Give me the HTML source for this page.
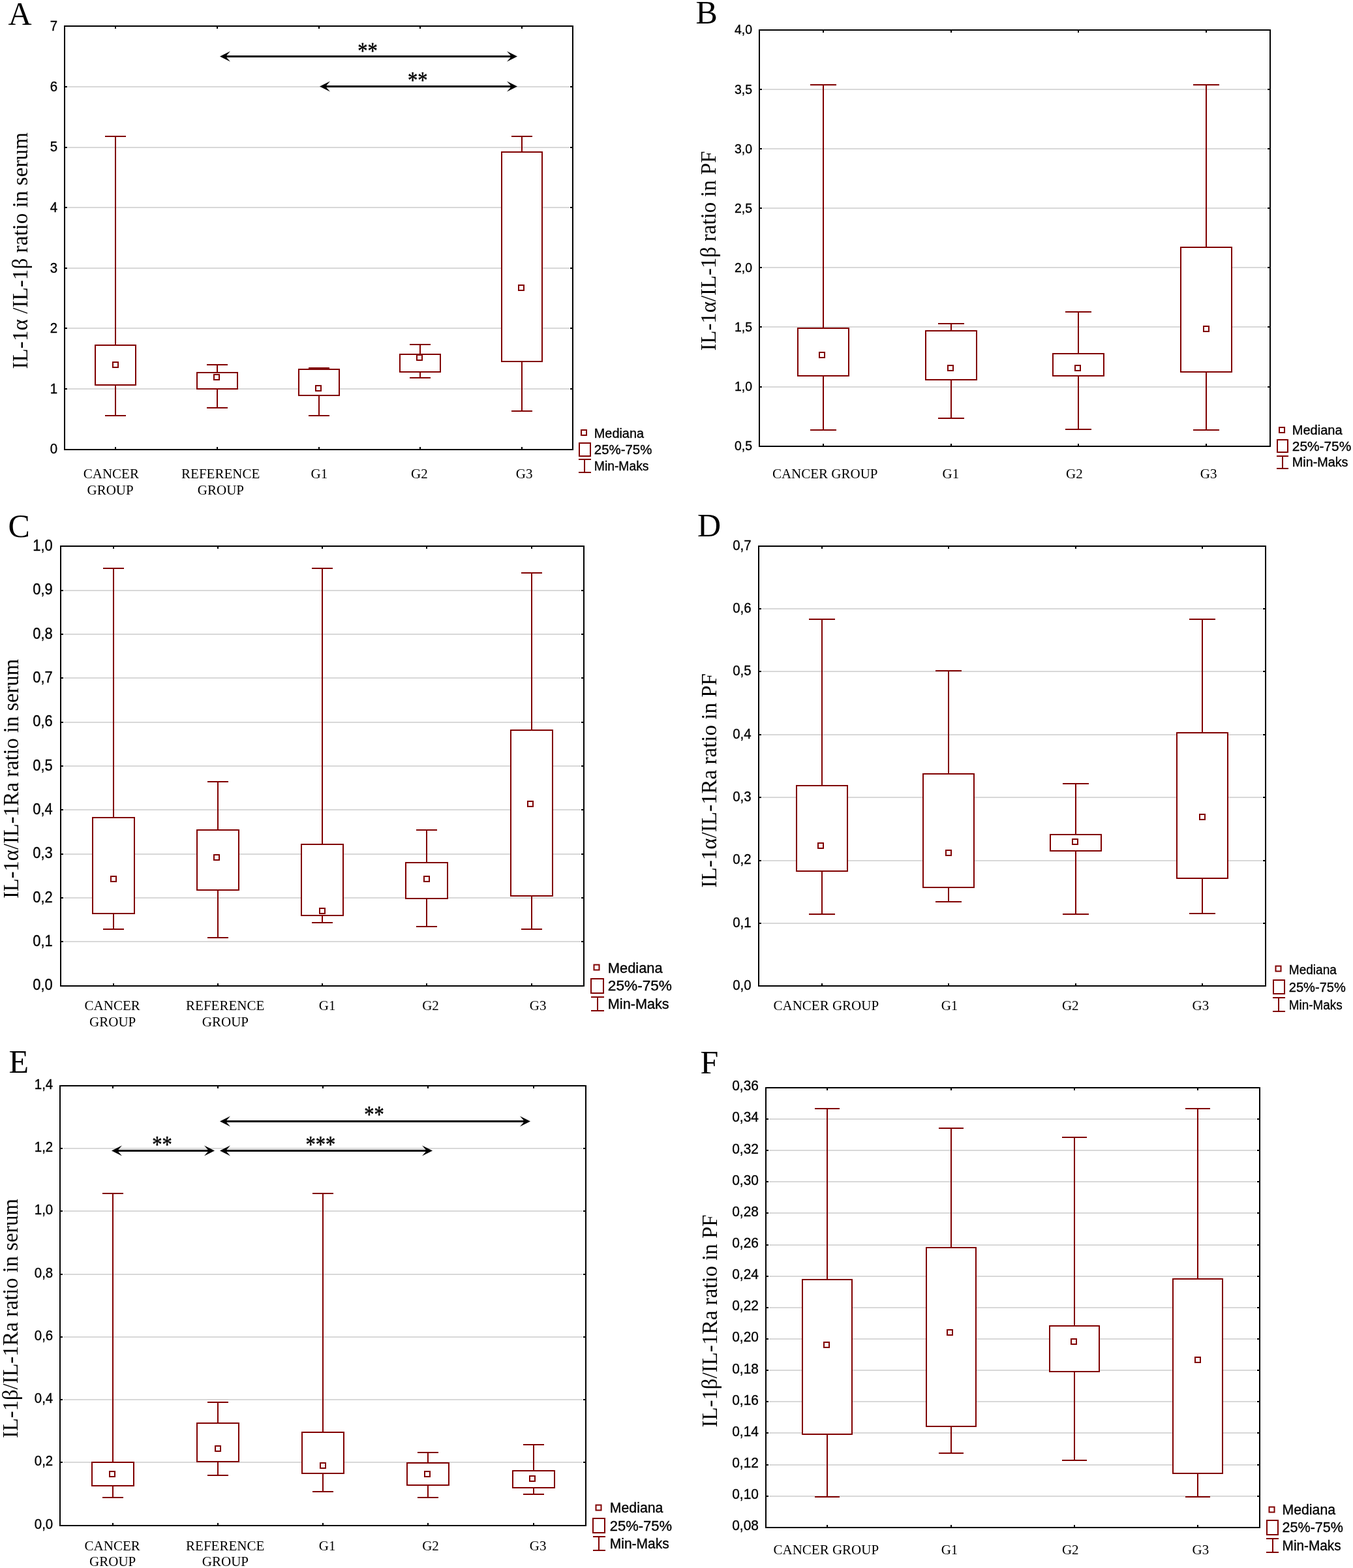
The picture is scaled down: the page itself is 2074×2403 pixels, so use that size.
<!DOCTYPE html>
<html><head><meta charset="utf-8"><title>Figure</title>
<style>
html,body{margin:0;padding:0;background:#fff;}
body{width:2074px;height:2403px;overflow:hidden;}
svg{display:block;}
</style></head>
<body>
<svg width="2074" height="2403" viewBox="0 0 2074 2403">
<rect x="0" y="0" width="2074" height="2403" fill="#fff"/>
<g>
<line x1="104" y1="596" x2="873" y2="596" stroke="#d8d8d8" stroke-width="2"/>
<line x1="104" y1="503" x2="873" y2="503" stroke="#d8d8d8" stroke-width="2"/>
<line x1="104" y1="411" x2="873" y2="411" stroke="#d8d8d8" stroke-width="2"/>
<line x1="104" y1="318" x2="873" y2="318" stroke="#d8d8d8" stroke-width="2"/>
<line x1="104" y1="226" x2="873" y2="226" stroke="#d8d8d8" stroke-width="2"/>
<line x1="104" y1="133" x2="873" y2="133" stroke="#d8d8d8" stroke-width="2"/>
<line x1="177" y1="209" x2="177" y2="529" stroke="#800000" stroke-width="2"/>
<line x1="177" y1="590" x2="177" y2="637" stroke="#800000" stroke-width="2"/>
<line x1="161" y1="209" x2="193" y2="209" stroke="#800000" stroke-width="2"/>
<line x1="161" y1="637" x2="193" y2="637" stroke="#800000" stroke-width="2"/>
<rect x="146" y="529" width="62" height="61" fill="#fff" stroke="#800000" stroke-width="2"/>
<rect x="173.0" y="555.0" width="8" height="8" fill="none" stroke="#800000" stroke-width="2"/>
<line x1="333" y1="559" x2="333" y2="571" stroke="#800000" stroke-width="2"/>
<line x1="333" y1="596" x2="333" y2="625" stroke="#800000" stroke-width="2"/>
<line x1="317" y1="559" x2="349" y2="559" stroke="#800000" stroke-width="2"/>
<line x1="317" y1="625" x2="349" y2="625" stroke="#800000" stroke-width="2"/>
<rect x="302" y="571" width="62" height="25" fill="#fff" stroke="#800000" stroke-width="2"/>
<rect x="328.0" y="574.0" width="8" height="8" fill="none" stroke="#800000" stroke-width="2"/>
<line x1="489" y1="564" x2="489" y2="566" stroke="#800000" stroke-width="2"/>
<line x1="489" y1="606" x2="489" y2="637" stroke="#800000" stroke-width="2"/>
<line x1="473" y1="564" x2="505" y2="564" stroke="#800000" stroke-width="2"/>
<line x1="473" y1="637" x2="505" y2="637" stroke="#800000" stroke-width="2"/>
<rect x="458" y="566" width="62" height="40" fill="#fff" stroke="#800000" stroke-width="2"/>
<rect x="484.0" y="591.0" width="8" height="8" fill="none" stroke="#800000" stroke-width="2"/>
<line x1="644" y1="528" x2="644" y2="543" stroke="#800000" stroke-width="2"/>
<line x1="644" y1="570" x2="644" y2="579" stroke="#800000" stroke-width="2"/>
<line x1="628" y1="528" x2="660" y2="528" stroke="#800000" stroke-width="2"/>
<line x1="628" y1="579" x2="660" y2="579" stroke="#800000" stroke-width="2"/>
<rect x="613" y="543" width="62" height="27" fill="#fff" stroke="#800000" stroke-width="2"/>
<rect x="639.0" y="544.0" width="8" height="8" fill="none" stroke="#800000" stroke-width="2"/>
<line x1="800" y1="209" x2="800" y2="233" stroke="#800000" stroke-width="2"/>
<line x1="800" y1="554" x2="800" y2="630" stroke="#800000" stroke-width="2"/>
<line x1="784" y1="209" x2="816" y2="209" stroke="#800000" stroke-width="2"/>
<line x1="784" y1="630" x2="816" y2="630" stroke="#800000" stroke-width="2"/>
<rect x="769" y="233" width="62" height="321" fill="#fff" stroke="#800000" stroke-width="2"/>
<rect x="795.0" y="437.0" width="8" height="8" fill="none" stroke="#800000" stroke-width="2"/>
<line x1="99" y1="596" x2="103" y2="596" stroke="#000" stroke-width="2"/>
<line x1="874" y1="596" x2="878" y2="596" stroke="#000" stroke-width="2"/>
<line x1="99" y1="503" x2="103" y2="503" stroke="#000" stroke-width="2"/>
<line x1="874" y1="503" x2="878" y2="503" stroke="#000" stroke-width="2"/>
<line x1="99" y1="411" x2="103" y2="411" stroke="#000" stroke-width="2"/>
<line x1="874" y1="411" x2="878" y2="411" stroke="#000" stroke-width="2"/>
<line x1="99" y1="318" x2="103" y2="318" stroke="#000" stroke-width="2"/>
<line x1="874" y1="318" x2="878" y2="318" stroke="#000" stroke-width="2"/>
<line x1="99" y1="226" x2="103" y2="226" stroke="#000" stroke-width="2"/>
<line x1="874" y1="226" x2="878" y2="226" stroke="#000" stroke-width="2"/>
<line x1="99" y1="133" x2="103" y2="133" stroke="#000" stroke-width="2"/>
<line x1="874" y1="133" x2="878" y2="133" stroke="#000" stroke-width="2"/>
<line x1="177" y1="685" x2="177" y2="689" stroke="#000" stroke-width="2"/>
<line x1="177" y1="40" x2="177" y2="44" stroke="#000" stroke-width="2"/>
<line x1="333" y1="685" x2="333" y2="689" stroke="#000" stroke-width="2"/>
<line x1="333" y1="40" x2="333" y2="44" stroke="#000" stroke-width="2"/>
<line x1="489" y1="685" x2="489" y2="689" stroke="#000" stroke-width="2"/>
<line x1="489" y1="40" x2="489" y2="44" stroke="#000" stroke-width="2"/>
<line x1="644" y1="685" x2="644" y2="689" stroke="#000" stroke-width="2"/>
<line x1="644" y1="40" x2="644" y2="44" stroke="#000" stroke-width="2"/>
<line x1="800" y1="685" x2="800" y2="689" stroke="#000" stroke-width="2"/>
<line x1="800" y1="40" x2="800" y2="44" stroke="#000" stroke-width="2"/>
<rect x="99" y="40" width="779" height="649" fill="none" stroke="#000" stroke-width="2"/>
<text transform="translate(88,695.3) scale(0.95,1)" x="0" y="0" font-family="Liberation Sans, Arial, sans-serif" font-size="21.53" text-anchor="end" stroke="#000" stroke-width="0.35">0</text>
<text transform="translate(88,602.7) scale(0.95,1)" x="0" y="0" font-family="Liberation Sans, Arial, sans-serif" font-size="21.53" text-anchor="end" stroke="#000" stroke-width="0.35">1</text>
<text transform="translate(88,510.1) scale(0.95,1)" x="0" y="0" font-family="Liberation Sans, Arial, sans-serif" font-size="21.53" text-anchor="end" stroke="#000" stroke-width="0.35">2</text>
<text transform="translate(88,417.5) scale(0.95,1)" x="0" y="0" font-family="Liberation Sans, Arial, sans-serif" font-size="21.53" text-anchor="end" stroke="#000" stroke-width="0.35">3</text>
<text transform="translate(88,324.9) scale(0.95,1)" x="0" y="0" font-family="Liberation Sans, Arial, sans-serif" font-size="21.53" text-anchor="end" stroke="#000" stroke-width="0.35">4</text>
<text transform="translate(88,232.3) scale(0.95,1)" x="0" y="0" font-family="Liberation Sans, Arial, sans-serif" font-size="21.53" text-anchor="end" stroke="#000" stroke-width="0.35">5</text>
<text transform="translate(88,139.7) scale(0.95,1)" x="0" y="0" font-family="Liberation Sans, Arial, sans-serif" font-size="21.53" text-anchor="end" stroke="#000" stroke-width="0.35">6</text>
<text transform="translate(88,47.1) scale(0.95,1)" x="0" y="0" font-family="Liberation Sans, Arial, sans-serif" font-size="21.53" text-anchor="end" stroke="#000" stroke-width="0.35">7</text>
<text x="170.3" y="733.4" font-family="Liberation Serif, Times New Roman, serif" font-size="21" text-anchor="middle">CANCER</text>
<text x="169.1" y="758" font-family="Liberation Serif, Times New Roman, serif" font-size="21" text-anchor="middle">GROUP</text>
<text x="338.2" y="733.4" font-family="Liberation Serif, Times New Roman, serif" font-size="21" text-anchor="middle">REFERENCE</text>
<text x="338.4" y="758" font-family="Liberation Serif, Times New Roman, serif" font-size="21" text-anchor="middle">GROUP</text>
<text x="489.4" y="733" font-family="Liberation Serif, Times New Roman, serif" font-size="21" text-anchor="middle">G1</text>
<text x="642.9" y="733" font-family="Liberation Serif, Times New Roman, serif" font-size="21" text-anchor="middle">G2</text>
<text x="803.6" y="733" font-family="Liberation Serif, Times New Roman, serif" font-size="21" text-anchor="middle">G3</text>
<text transform="translate(42,565.5) rotate(-90)" x="0" y="0" font-family="Liberation Serif, Times New Roman, serif" font-size="32.8" textLength="362.5" lengthAdjust="spacingAndGlyphs">IL-1α /IL-1β ratio in serum</text>
<text x="12.5" y="38.3" font-family="Liberation Serif, Times New Roman, serif" font-size="50">A</text>
<rect x="891" y="659" width="8" height="8" fill="none" stroke="#800000" stroke-width="2"/>
<rect x="888" y="679" width="17" height="20" fill="none" stroke="#800000" stroke-width="2"/>
<line x1="887" y1="704" x2="906" y2="704" stroke="#800000" stroke-width="2"/>
<line x1="887" y1="724" x2="906" y2="724" stroke="#800000" stroke-width="2"/>
<line x1="896" y1="704" x2="896" y2="724" stroke="#800000" stroke-width="2"/>
<text x="910.8" y="670.9" font-family="Liberation Sans, Arial, sans-serif" font-size="20.5" textLength="76.2" lengthAdjust="spacingAndGlyphs" stroke="#000" stroke-width="0.35">Mediana</text>
<text x="910.8" y="695.9" font-family="Liberation Sans, Arial, sans-serif" font-size="20.5" textLength="88.5" lengthAdjust="spacingAndGlyphs" stroke="#000" stroke-width="0.35">25%-75%</text>
<text x="910.8" y="720.8" font-family="Liberation Sans, Arial, sans-serif" font-size="20.5" textLength="83.7" lengthAdjust="spacingAndGlyphs" stroke="#000" stroke-width="0.35">Min-Maks</text>
<line x1="345" y1="86.5" x2="785" y2="86.5" stroke="#000" stroke-width="3"/>
<path d="M337,86.5 L353,78.5 L346,86.5 L353,94.5 Z" fill="#000"/>
<path d="M793,86.5 L777,78.5 L784,86.5 L777,94.5 Z" fill="#000"/>
<text transform="translate(563.6,90.4) scale(0.86,1)" x="0" y="0" font-family="Liberation Serif, Times New Roman, serif" font-size="35.5" text-anchor="middle" stroke="#000" stroke-width="0.5">**</text>
<line x1="498" y1="132.5" x2="785" y2="132.5" stroke="#000" stroke-width="3"/>
<path d="M490,132.5 L506,124.5 L499,132.5 L506,140.5 Z" fill="#000"/>
<path d="M793,132.5 L777,124.5 L784,132.5 L777,140.5 Z" fill="#000"/>
<text transform="translate(640.2,134.6) scale(0.86,1)" x="0" y="0" font-family="Liberation Serif, Times New Roman, serif" font-size="35.5" text-anchor="middle" stroke="#000" stroke-width="0.5">**</text>
</g>
<g>
<line x1="1169" y1="593" x2="1942" y2="593" stroke="#d8d8d8" stroke-width="2"/>
<line x1="1169" y1="501" x2="1942" y2="501" stroke="#d8d8d8" stroke-width="2"/>
<line x1="1169" y1="410" x2="1942" y2="410" stroke="#d8d8d8" stroke-width="2"/>
<line x1="1169" y1="319" x2="1942" y2="319" stroke="#d8d8d8" stroke-width="2"/>
<line x1="1169" y1="228" x2="1942" y2="228" stroke="#d8d8d8" stroke-width="2"/>
<line x1="1169" y1="137" x2="1942" y2="137" stroke="#d8d8d8" stroke-width="2"/>
<line x1="1262" y1="130" x2="1262" y2="503" stroke="#800000" stroke-width="2"/>
<line x1="1262" y1="576" x2="1262" y2="659" stroke="#800000" stroke-width="2"/>
<line x1="1242" y1="130" x2="1282" y2="130" stroke="#800000" stroke-width="2"/>
<line x1="1242" y1="659" x2="1282" y2="659" stroke="#800000" stroke-width="2"/>
<rect x="1223" y="503" width="78" height="73" fill="#fff" stroke="#800000" stroke-width="2"/>
<rect x="1256.0" y="540.0" width="8" height="8" fill="none" stroke="#800000" stroke-width="2"/>
<line x1="1458" y1="496" x2="1458" y2="507" stroke="#800000" stroke-width="2"/>
<line x1="1458" y1="582" x2="1458" y2="641" stroke="#800000" stroke-width="2"/>
<line x1="1438" y1="496" x2="1478" y2="496" stroke="#800000" stroke-width="2"/>
<line x1="1438" y1="641" x2="1478" y2="641" stroke="#800000" stroke-width="2"/>
<rect x="1419" y="507" width="78" height="75" fill="#fff" stroke="#800000" stroke-width="2"/>
<rect x="1453.0" y="560.0" width="8" height="8" fill="none" stroke="#800000" stroke-width="2"/>
<line x1="1653" y1="478" x2="1653" y2="542" stroke="#800000" stroke-width="2"/>
<line x1="1653" y1="576" x2="1653" y2="658" stroke="#800000" stroke-width="2"/>
<line x1="1633" y1="478" x2="1673" y2="478" stroke="#800000" stroke-width="2"/>
<line x1="1633" y1="658" x2="1673" y2="658" stroke="#800000" stroke-width="2"/>
<rect x="1614" y="542" width="78" height="34" fill="#fff" stroke="#800000" stroke-width="2"/>
<rect x="1648.0" y="560.0" width="8" height="8" fill="none" stroke="#800000" stroke-width="2"/>
<line x1="1849" y1="130" x2="1849" y2="379" stroke="#800000" stroke-width="2"/>
<line x1="1849" y1="570" x2="1849" y2="659" stroke="#800000" stroke-width="2"/>
<line x1="1829" y1="130" x2="1869" y2="130" stroke="#800000" stroke-width="2"/>
<line x1="1829" y1="659" x2="1869" y2="659" stroke="#800000" stroke-width="2"/>
<rect x="1810" y="379" width="78" height="191" fill="#fff" stroke="#800000" stroke-width="2"/>
<rect x="1845.0" y="500.0" width="8" height="8" fill="none" stroke="#800000" stroke-width="2"/>
<line x1="1164" y1="593" x2="1168" y2="593" stroke="#000" stroke-width="2"/>
<line x1="1943" y1="593" x2="1947" y2="593" stroke="#000" stroke-width="2"/>
<line x1="1164" y1="501" x2="1168" y2="501" stroke="#000" stroke-width="2"/>
<line x1="1943" y1="501" x2="1947" y2="501" stroke="#000" stroke-width="2"/>
<line x1="1164" y1="410" x2="1168" y2="410" stroke="#000" stroke-width="2"/>
<line x1="1943" y1="410" x2="1947" y2="410" stroke="#000" stroke-width="2"/>
<line x1="1164" y1="319" x2="1168" y2="319" stroke="#000" stroke-width="2"/>
<line x1="1943" y1="319" x2="1947" y2="319" stroke="#000" stroke-width="2"/>
<line x1="1164" y1="228" x2="1168" y2="228" stroke="#000" stroke-width="2"/>
<line x1="1943" y1="228" x2="1947" y2="228" stroke="#000" stroke-width="2"/>
<line x1="1164" y1="137" x2="1168" y2="137" stroke="#000" stroke-width="2"/>
<line x1="1943" y1="137" x2="1947" y2="137" stroke="#000" stroke-width="2"/>
<line x1="1262" y1="680" x2="1262" y2="684" stroke="#000" stroke-width="2"/>
<line x1="1262" y1="46" x2="1262" y2="50" stroke="#000" stroke-width="2"/>
<line x1="1458" y1="680" x2="1458" y2="684" stroke="#000" stroke-width="2"/>
<line x1="1458" y1="46" x2="1458" y2="50" stroke="#000" stroke-width="2"/>
<line x1="1653" y1="680" x2="1653" y2="684" stroke="#000" stroke-width="2"/>
<line x1="1653" y1="46" x2="1653" y2="50" stroke="#000" stroke-width="2"/>
<line x1="1849" y1="680" x2="1849" y2="684" stroke="#000" stroke-width="2"/>
<line x1="1849" y1="46" x2="1849" y2="50" stroke="#000" stroke-width="2"/>
<rect x="1164" y="46" width="783" height="638" fill="none" stroke="#000" stroke-width="2"/>
<text transform="translate(1153,690.3) scale(0.95,1)" x="0" y="0" font-family="Liberation Sans, Arial, sans-serif" font-size="20.48" text-anchor="end" stroke="#000" stroke-width="0.35">0,5</text>
<text transform="translate(1153,599.2) scale(0.95,1)" x="0" y="0" font-family="Liberation Sans, Arial, sans-serif" font-size="20.48" text-anchor="end" stroke="#000" stroke-width="0.35">1,0</text>
<text transform="translate(1153,508.1) scale(0.95,1)" x="0" y="0" font-family="Liberation Sans, Arial, sans-serif" font-size="20.48" text-anchor="end" stroke="#000" stroke-width="0.35">1,5</text>
<text transform="translate(1153,416.9) scale(0.95,1)" x="0" y="0" font-family="Liberation Sans, Arial, sans-serif" font-size="20.48" text-anchor="end" stroke="#000" stroke-width="0.35">2,0</text>
<text transform="translate(1153,325.8) scale(0.95,1)" x="0" y="0" font-family="Liberation Sans, Arial, sans-serif" font-size="20.48" text-anchor="end" stroke="#000" stroke-width="0.35">2,5</text>
<text transform="translate(1153,234.7) scale(0.95,1)" x="0" y="0" font-family="Liberation Sans, Arial, sans-serif" font-size="20.48" text-anchor="end" stroke="#000" stroke-width="0.35">3,0</text>
<text transform="translate(1153,143.6) scale(0.95,1)" x="0" y="0" font-family="Liberation Sans, Arial, sans-serif" font-size="20.48" text-anchor="end" stroke="#000" stroke-width="0.35">3,5</text>
<text transform="translate(1153,52.4) scale(0.95,1)" x="0" y="0" font-family="Liberation Sans, Arial, sans-serif" font-size="20.48" text-anchor="end" stroke="#000" stroke-width="0.35">4,0</text>
<text x="1264.7" y="733" font-family="Liberation Serif, Times New Roman, serif" font-size="21" text-anchor="middle">CANCER GROUP</text>
<text x="1457.4" y="732.8" font-family="Liberation Serif, Times New Roman, serif" font-size="21" text-anchor="middle">G1</text>
<text x="1646.9" y="732.8" font-family="Liberation Serif, Times New Roman, serif" font-size="21" text-anchor="middle">G2</text>
<text x="1852.6" y="732.8" font-family="Liberation Serif, Times New Roman, serif" font-size="21" text-anchor="middle">G3</text>
<text transform="translate(1097.4,537.5) rotate(-90)" x="0" y="0" font-family="Liberation Serif, Times New Roman, serif" font-size="32.8" textLength="306.0" lengthAdjust="spacingAndGlyphs">IL-1α/IL-1β ratio in PF</text>
<text x="1066.5" y="36.4" font-family="Liberation Serif, Times New Roman, serif" font-size="50">B</text>
<rect x="1961" y="655" width="8" height="8" fill="none" stroke="#800000" stroke-width="2"/>
<rect x="1958" y="674" width="16" height="19" fill="none" stroke="#800000" stroke-width="2"/>
<line x1="1957" y1="699" x2="1975" y2="699" stroke="#800000" stroke-width="2"/>
<line x1="1957" y1="718" x2="1975" y2="718" stroke="#800000" stroke-width="2"/>
<line x1="1966" y1="699" x2="1966" y2="718" stroke="#800000" stroke-width="2"/>
<text x="1980.8" y="666" font-family="Liberation Sans, Arial, sans-serif" font-size="19.5" textLength="76.8" lengthAdjust="spacingAndGlyphs" stroke="#000" stroke-width="0.35">Mediana</text>
<text x="1980.8" y="690.8" font-family="Liberation Sans, Arial, sans-serif" font-size="19.5" textLength="90.5" lengthAdjust="spacingAndGlyphs" stroke="#000" stroke-width="0.35">25%-75%</text>
<text x="1980.8" y="714.7" font-family="Liberation Sans, Arial, sans-serif" font-size="19.5" textLength="85.7" lengthAdjust="spacingAndGlyphs" stroke="#000" stroke-width="0.35">Min-Maks</text>
</g>
<g>
<line x1="98" y1="1443" x2="890" y2="1443" stroke="#d8d8d8" stroke-width="2"/>
<line x1="98" y1="1376" x2="890" y2="1376" stroke="#d8d8d8" stroke-width="2"/>
<line x1="98" y1="1309" x2="890" y2="1309" stroke="#d8d8d8" stroke-width="2"/>
<line x1="98" y1="1241" x2="890" y2="1241" stroke="#d8d8d8" stroke-width="2"/>
<line x1="98" y1="1174" x2="890" y2="1174" stroke="#d8d8d8" stroke-width="2"/>
<line x1="98" y1="1107" x2="890" y2="1107" stroke="#d8d8d8" stroke-width="2"/>
<line x1="98" y1="1039" x2="890" y2="1039" stroke="#d8d8d8" stroke-width="2"/>
<line x1="98" y1="972" x2="890" y2="972" stroke="#d8d8d8" stroke-width="2"/>
<line x1="98" y1="905" x2="890" y2="905" stroke="#d8d8d8" stroke-width="2"/>
<line x1="174" y1="871" x2="174" y2="1253" stroke="#800000" stroke-width="2"/>
<line x1="174" y1="1400" x2="174" y2="1424" stroke="#800000" stroke-width="2"/>
<line x1="158" y1="871" x2="190" y2="871" stroke="#800000" stroke-width="2"/>
<line x1="158" y1="1424" x2="190" y2="1424" stroke="#800000" stroke-width="2"/>
<rect x="142" y="1253" width="64" height="147" fill="#fff" stroke="#800000" stroke-width="2"/>
<rect x="170.0" y="1343.0" width="8" height="8" fill="none" stroke="#800000" stroke-width="2"/>
<line x1="334" y1="1198" x2="334" y2="1272" stroke="#800000" stroke-width="2"/>
<line x1="334" y1="1364" x2="334" y2="1437" stroke="#800000" stroke-width="2"/>
<line x1="318" y1="1198" x2="350" y2="1198" stroke="#800000" stroke-width="2"/>
<line x1="318" y1="1437" x2="350" y2="1437" stroke="#800000" stroke-width="2"/>
<rect x="302" y="1272" width="64" height="92" fill="#fff" stroke="#800000" stroke-width="2"/>
<rect x="328.0" y="1310.0" width="8" height="8" fill="none" stroke="#800000" stroke-width="2"/>
<line x1="494" y1="871" x2="494" y2="1294" stroke="#800000" stroke-width="2"/>
<line x1="494" y1="1403" x2="494" y2="1414" stroke="#800000" stroke-width="2"/>
<line x1="478" y1="871" x2="510" y2="871" stroke="#800000" stroke-width="2"/>
<line x1="478" y1="1414" x2="510" y2="1414" stroke="#800000" stroke-width="2"/>
<rect x="462" y="1294" width="64" height="109" fill="#fff" stroke="#800000" stroke-width="2"/>
<rect x="490.0" y="1392.0" width="8" height="8" fill="none" stroke="#800000" stroke-width="2"/>
<line x1="654" y1="1272" x2="654" y2="1322" stroke="#800000" stroke-width="2"/>
<line x1="654" y1="1377" x2="654" y2="1420" stroke="#800000" stroke-width="2"/>
<line x1="638" y1="1272" x2="670" y2="1272" stroke="#800000" stroke-width="2"/>
<line x1="638" y1="1420" x2="670" y2="1420" stroke="#800000" stroke-width="2"/>
<rect x="622" y="1322" width="64" height="55" fill="#fff" stroke="#800000" stroke-width="2"/>
<rect x="650.0" y="1343.0" width="8" height="8" fill="none" stroke="#800000" stroke-width="2"/>
<line x1="815" y1="878" x2="815" y2="1119" stroke="#800000" stroke-width="2"/>
<line x1="815" y1="1373" x2="815" y2="1424" stroke="#800000" stroke-width="2"/>
<line x1="799" y1="878" x2="831" y2="878" stroke="#800000" stroke-width="2"/>
<line x1="799" y1="1424" x2="831" y2="1424" stroke="#800000" stroke-width="2"/>
<rect x="783" y="1119" width="64" height="254" fill="#fff" stroke="#800000" stroke-width="2"/>
<rect x="809.0" y="1228.0" width="8" height="8" fill="none" stroke="#800000" stroke-width="2"/>
<line x1="93" y1="1443" x2="97" y2="1443" stroke="#000" stroke-width="2"/>
<line x1="891" y1="1443" x2="895" y2="1443" stroke="#000" stroke-width="2"/>
<line x1="93" y1="1376" x2="97" y2="1376" stroke="#000" stroke-width="2"/>
<line x1="891" y1="1376" x2="895" y2="1376" stroke="#000" stroke-width="2"/>
<line x1="93" y1="1309" x2="97" y2="1309" stroke="#000" stroke-width="2"/>
<line x1="891" y1="1309" x2="895" y2="1309" stroke="#000" stroke-width="2"/>
<line x1="93" y1="1241" x2="97" y2="1241" stroke="#000" stroke-width="2"/>
<line x1="891" y1="1241" x2="895" y2="1241" stroke="#000" stroke-width="2"/>
<line x1="93" y1="1174" x2="97" y2="1174" stroke="#000" stroke-width="2"/>
<line x1="891" y1="1174" x2="895" y2="1174" stroke="#000" stroke-width="2"/>
<line x1="93" y1="1107" x2="97" y2="1107" stroke="#000" stroke-width="2"/>
<line x1="891" y1="1107" x2="895" y2="1107" stroke="#000" stroke-width="2"/>
<line x1="93" y1="1039" x2="97" y2="1039" stroke="#000" stroke-width="2"/>
<line x1="891" y1="1039" x2="895" y2="1039" stroke="#000" stroke-width="2"/>
<line x1="93" y1="972" x2="97" y2="972" stroke="#000" stroke-width="2"/>
<line x1="891" y1="972" x2="895" y2="972" stroke="#000" stroke-width="2"/>
<line x1="93" y1="905" x2="97" y2="905" stroke="#000" stroke-width="2"/>
<line x1="891" y1="905" x2="895" y2="905" stroke="#000" stroke-width="2"/>
<line x1="174" y1="1507" x2="174" y2="1511" stroke="#000" stroke-width="2"/>
<line x1="174" y1="837" x2="174" y2="841" stroke="#000" stroke-width="2"/>
<line x1="334" y1="1507" x2="334" y2="1511" stroke="#000" stroke-width="2"/>
<line x1="334" y1="837" x2="334" y2="841" stroke="#000" stroke-width="2"/>
<line x1="494" y1="1507" x2="494" y2="1511" stroke="#000" stroke-width="2"/>
<line x1="494" y1="837" x2="494" y2="841" stroke="#000" stroke-width="2"/>
<line x1="654" y1="1507" x2="654" y2="1511" stroke="#000" stroke-width="2"/>
<line x1="654" y1="837" x2="654" y2="841" stroke="#000" stroke-width="2"/>
<line x1="815" y1="1507" x2="815" y2="1511" stroke="#000" stroke-width="2"/>
<line x1="815" y1="837" x2="815" y2="841" stroke="#000" stroke-width="2"/>
<rect x="93" y="837" width="802" height="674" fill="none" stroke="#000" stroke-width="2"/>
<text transform="translate(80.8,1517.1) scale(0.95,1)" x="0" y="0" font-family="Liberation Sans, Arial, sans-serif" font-size="23.10" text-anchor="end" stroke="#000" stroke-width="0.35">0,0</text>
<text transform="translate(80.8,1449.8) scale(0.95,1)" x="0" y="0" font-family="Liberation Sans, Arial, sans-serif" font-size="23.10" text-anchor="end" stroke="#000" stroke-width="0.35">0,1</text>
<text transform="translate(80.8,1382.5) scale(0.95,1)" x="0" y="0" font-family="Liberation Sans, Arial, sans-serif" font-size="23.10" text-anchor="end" stroke="#000" stroke-width="0.35">0,2</text>
<text transform="translate(80.8,1315.2) scale(0.95,1)" x="0" y="0" font-family="Liberation Sans, Arial, sans-serif" font-size="23.10" text-anchor="end" stroke="#000" stroke-width="0.35">0,3</text>
<text transform="translate(80.8,1247.9) scale(0.95,1)" x="0" y="0" font-family="Liberation Sans, Arial, sans-serif" font-size="23.10" text-anchor="end" stroke="#000" stroke-width="0.35">0,4</text>
<text transform="translate(80.8,1180.6) scale(0.95,1)" x="0" y="0" font-family="Liberation Sans, Arial, sans-serif" font-size="23.10" text-anchor="end" stroke="#000" stroke-width="0.35">0,5</text>
<text transform="translate(80.8,1113.3) scale(0.95,1)" x="0" y="0" font-family="Liberation Sans, Arial, sans-serif" font-size="23.10" text-anchor="end" stroke="#000" stroke-width="0.35">0,6</text>
<text transform="translate(80.8,1046.0) scale(0.95,1)" x="0" y="0" font-family="Liberation Sans, Arial, sans-serif" font-size="23.10" text-anchor="end" stroke="#000" stroke-width="0.35">0,7</text>
<text transform="translate(80.8,978.7) scale(0.95,1)" x="0" y="0" font-family="Liberation Sans, Arial, sans-serif" font-size="23.10" text-anchor="end" stroke="#000" stroke-width="0.35">0,8</text>
<text transform="translate(80.8,911.4) scale(0.95,1)" x="0" y="0" font-family="Liberation Sans, Arial, sans-serif" font-size="23.10" text-anchor="end" stroke="#000" stroke-width="0.35">0,9</text>
<text transform="translate(80.8,844.1) scale(0.95,1)" x="0" y="0" font-family="Liberation Sans, Arial, sans-serif" font-size="23.10" text-anchor="end" stroke="#000" stroke-width="0.35">1,0</text>
<text x="172.2" y="1548.2" font-family="Liberation Serif, Times New Roman, serif" font-size="21" text-anchor="middle">CANCER</text>
<text x="172.7" y="1572.8" font-family="Liberation Serif, Times New Roman, serif" font-size="21" text-anchor="middle">GROUP</text>
<text x="345.2" y="1548.2" font-family="Liberation Serif, Times New Roman, serif" font-size="21" text-anchor="middle">REFERENCE</text>
<text x="345.4" y="1572.8" font-family="Liberation Serif, Times New Roman, serif" font-size="21" text-anchor="middle">GROUP</text>
<text x="501.6" y="1548.2" font-family="Liberation Serif, Times New Roman, serif" font-size="21" text-anchor="middle">G1</text>
<text x="660" y="1548.2" font-family="Liberation Serif, Times New Roman, serif" font-size="21" text-anchor="middle">G2</text>
<text x="824.6" y="1548.2" font-family="Liberation Serif, Times New Roman, serif" font-size="21" text-anchor="middle">G3</text>
<text transform="translate(28.4,1377) rotate(-90)" x="0" y="0" font-family="Liberation Serif, Times New Roman, serif" font-size="32.8" textLength="367.0" lengthAdjust="spacingAndGlyphs">IL-1α/IL-1Ra ratio in serum</text>
<text x="12.5" y="822.8" font-family="Liberation Serif, Times New Roman, serif" font-size="50">C</text>
<rect x="910.5" y="1478.5" width="8" height="8" fill="none" stroke="#800000" stroke-width="2"/>
<rect x="906" y="1500" width="19" height="22" fill="none" stroke="#800000" stroke-width="2"/>
<line x1="906" y1="1528" x2="926" y2="1528" stroke="#800000" stroke-width="2"/>
<line x1="906" y1="1549" x2="926" y2="1549" stroke="#800000" stroke-width="2"/>
<line x1="916" y1="1528" x2="916" y2="1549" stroke="#800000" stroke-width="2"/>
<text x="931.8" y="1490.9" font-family="Liberation Sans, Arial, sans-serif" font-size="22" textLength="83.8" lengthAdjust="spacingAndGlyphs" stroke="#000" stroke-width="0.35">Mediana</text>
<text x="931.8" y="1517.5" font-family="Liberation Sans, Arial, sans-serif" font-size="22" textLength="98.2" lengthAdjust="spacingAndGlyphs" stroke="#000" stroke-width="0.35">25%-75%</text>
<text x="931.8" y="1546" font-family="Liberation Sans, Arial, sans-serif" font-size="22" textLength="93.8" lengthAdjust="spacingAndGlyphs" stroke="#000" stroke-width="0.35">Min-Maks</text>
</g>
<g>
<line x1="1168" y1="1415" x2="1935" y2="1415" stroke="#d8d8d8" stroke-width="2"/>
<line x1="1168" y1="1319" x2="1935" y2="1319" stroke="#d8d8d8" stroke-width="2"/>
<line x1="1168" y1="1222" x2="1935" y2="1222" stroke="#d8d8d8" stroke-width="2"/>
<line x1="1168" y1="1126" x2="1935" y2="1126" stroke="#d8d8d8" stroke-width="2"/>
<line x1="1168" y1="1029" x2="1935" y2="1029" stroke="#d8d8d8" stroke-width="2"/>
<line x1="1168" y1="933" x2="1935" y2="933" stroke="#d8d8d8" stroke-width="2"/>
<line x1="1260" y1="949" x2="1260" y2="1204" stroke="#800000" stroke-width="2"/>
<line x1="1260" y1="1335" x2="1260" y2="1401" stroke="#800000" stroke-width="2"/>
<line x1="1240" y1="949" x2="1280" y2="949" stroke="#800000" stroke-width="2"/>
<line x1="1240" y1="1401" x2="1280" y2="1401" stroke="#800000" stroke-width="2"/>
<rect x="1221" y="1204" width="78" height="131" fill="#fff" stroke="#800000" stroke-width="2"/>
<rect x="1254.0" y="1292.0" width="8" height="8" fill="none" stroke="#800000" stroke-width="2"/>
<line x1="1454" y1="1028" x2="1454" y2="1186" stroke="#800000" stroke-width="2"/>
<line x1="1454" y1="1360" x2="1454" y2="1382" stroke="#800000" stroke-width="2"/>
<line x1="1434" y1="1028" x2="1474" y2="1028" stroke="#800000" stroke-width="2"/>
<line x1="1434" y1="1382" x2="1474" y2="1382" stroke="#800000" stroke-width="2"/>
<rect x="1415" y="1186" width="78" height="174" fill="#fff" stroke="#800000" stroke-width="2"/>
<rect x="1450.0" y="1303.0" width="8" height="8" fill="none" stroke="#800000" stroke-width="2"/>
<line x1="1649" y1="1201" x2="1649" y2="1279" stroke="#800000" stroke-width="2"/>
<line x1="1649" y1="1304" x2="1649" y2="1401" stroke="#800000" stroke-width="2"/>
<line x1="1629" y1="1201" x2="1669" y2="1201" stroke="#800000" stroke-width="2"/>
<line x1="1629" y1="1401" x2="1669" y2="1401" stroke="#800000" stroke-width="2"/>
<rect x="1610" y="1279" width="78" height="25" fill="#fff" stroke="#800000" stroke-width="2"/>
<rect x="1644.0" y="1286.0" width="8" height="8" fill="none" stroke="#800000" stroke-width="2"/>
<line x1="1843" y1="949" x2="1843" y2="1123" stroke="#800000" stroke-width="2"/>
<line x1="1843" y1="1346" x2="1843" y2="1400" stroke="#800000" stroke-width="2"/>
<line x1="1823" y1="949" x2="1863" y2="949" stroke="#800000" stroke-width="2"/>
<line x1="1823" y1="1400" x2="1863" y2="1400" stroke="#800000" stroke-width="2"/>
<rect x="1804" y="1123" width="78" height="223" fill="#fff" stroke="#800000" stroke-width="2"/>
<rect x="1839.0" y="1248.0" width="8" height="8" fill="none" stroke="#800000" stroke-width="2"/>
<line x1="1163" y1="1415" x2="1167" y2="1415" stroke="#000" stroke-width="2"/>
<line x1="1936" y1="1415" x2="1940" y2="1415" stroke="#000" stroke-width="2"/>
<line x1="1163" y1="1319" x2="1167" y2="1319" stroke="#000" stroke-width="2"/>
<line x1="1936" y1="1319" x2="1940" y2="1319" stroke="#000" stroke-width="2"/>
<line x1="1163" y1="1222" x2="1167" y2="1222" stroke="#000" stroke-width="2"/>
<line x1="1936" y1="1222" x2="1940" y2="1222" stroke="#000" stroke-width="2"/>
<line x1="1163" y1="1126" x2="1167" y2="1126" stroke="#000" stroke-width="2"/>
<line x1="1936" y1="1126" x2="1940" y2="1126" stroke="#000" stroke-width="2"/>
<line x1="1163" y1="1029" x2="1167" y2="1029" stroke="#000" stroke-width="2"/>
<line x1="1936" y1="1029" x2="1940" y2="1029" stroke="#000" stroke-width="2"/>
<line x1="1163" y1="933" x2="1167" y2="933" stroke="#000" stroke-width="2"/>
<line x1="1936" y1="933" x2="1940" y2="933" stroke="#000" stroke-width="2"/>
<line x1="1260" y1="1507" x2="1260" y2="1511" stroke="#000" stroke-width="2"/>
<line x1="1260" y1="837" x2="1260" y2="841" stroke="#000" stroke-width="2"/>
<line x1="1454" y1="1507" x2="1454" y2="1511" stroke="#000" stroke-width="2"/>
<line x1="1454" y1="837" x2="1454" y2="841" stroke="#000" stroke-width="2"/>
<line x1="1649" y1="1507" x2="1649" y2="1511" stroke="#000" stroke-width="2"/>
<line x1="1649" y1="837" x2="1649" y2="841" stroke="#000" stroke-width="2"/>
<line x1="1843" y1="1507" x2="1843" y2="1511" stroke="#000" stroke-width="2"/>
<line x1="1843" y1="837" x2="1843" y2="841" stroke="#000" stroke-width="2"/>
<rect x="1163" y="837" width="777" height="674" fill="none" stroke="#000" stroke-width="2"/>
<text transform="translate(1151.6,1516.9) scale(0.95,1)" x="0" y="0" font-family="Liberation Sans, Arial, sans-serif" font-size="21.53" text-anchor="end" stroke="#000" stroke-width="0.35">0,0</text>
<text transform="translate(1151.6,1420.6) scale(0.95,1)" x="0" y="0" font-family="Liberation Sans, Arial, sans-serif" font-size="21.53" text-anchor="end" stroke="#000" stroke-width="0.35">0,1</text>
<text transform="translate(1151.6,1324.2) scale(0.95,1)" x="0" y="0" font-family="Liberation Sans, Arial, sans-serif" font-size="21.53" text-anchor="end" stroke="#000" stroke-width="0.35">0,2</text>
<text transform="translate(1151.6,1227.9) scale(0.95,1)" x="0" y="0" font-family="Liberation Sans, Arial, sans-serif" font-size="21.53" text-anchor="end" stroke="#000" stroke-width="0.35">0,3</text>
<text transform="translate(1151.6,1131.5) scale(0.95,1)" x="0" y="0" font-family="Liberation Sans, Arial, sans-serif" font-size="21.53" text-anchor="end" stroke="#000" stroke-width="0.35">0,4</text>
<text transform="translate(1151.6,1035.2) scale(0.95,1)" x="0" y="0" font-family="Liberation Sans, Arial, sans-serif" font-size="21.53" text-anchor="end" stroke="#000" stroke-width="0.35">0,5</text>
<text transform="translate(1151.6,938.8) scale(0.95,1)" x="0" y="0" font-family="Liberation Sans, Arial, sans-serif" font-size="21.53" text-anchor="end" stroke="#000" stroke-width="0.35">0,6</text>
<text transform="translate(1151.6,842.5) scale(0.95,1)" x="0" y="0" font-family="Liberation Sans, Arial, sans-serif" font-size="21.53" text-anchor="end" stroke="#000" stroke-width="0.35">0,7</text>
<text x="1266.3" y="1547.7" font-family="Liberation Serif, Times New Roman, serif" font-size="21" text-anchor="middle">CANCER GROUP</text>
<text x="1455.5" y="1548" font-family="Liberation Serif, Times New Roman, serif" font-size="21" text-anchor="middle">G1</text>
<text x="1640.8" y="1548" font-family="Liberation Serif, Times New Roman, serif" font-size="21" text-anchor="middle">G2</text>
<text x="1840.4" y="1548" font-family="Liberation Serif, Times New Roman, serif" font-size="21" text-anchor="middle">G3</text>
<text transform="translate(1097.5,1360.5) rotate(-90)" x="0" y="0" font-family="Liberation Serif, Times New Roman, serif" font-size="32.8" textLength="328.5" lengthAdjust="spacingAndGlyphs">IL-1α/IL-1Ra ratio in PF</text>
<text x="1069" y="822" font-family="Liberation Serif, Times New Roman, serif" font-size="50">D</text>
<rect x="1955.5" y="1480.5" width="8" height="8" fill="none" stroke="#800000" stroke-width="2"/>
<rect x="1952" y="1502" width="17" height="21" fill="none" stroke="#800000" stroke-width="2"/>
<line x1="1951" y1="1529" x2="1970" y2="1529" stroke="#800000" stroke-width="2"/>
<line x1="1951" y1="1550" x2="1970" y2="1550" stroke="#800000" stroke-width="2"/>
<line x1="1960" y1="1529" x2="1960" y2="1550" stroke="#800000" stroke-width="2"/>
<text x="1975.8" y="1492.9" font-family="Liberation Sans, Arial, sans-serif" font-size="20" textLength="73" lengthAdjust="spacingAndGlyphs" stroke="#000" stroke-width="0.35">Mediana</text>
<text x="1975.8" y="1519.8" font-family="Liberation Sans, Arial, sans-serif" font-size="20" textLength="87" lengthAdjust="spacingAndGlyphs" stroke="#000" stroke-width="0.35">25%-75%</text>
<text x="1975.8" y="1546.6" font-family="Liberation Sans, Arial, sans-serif" font-size="20" textLength="81.8" lengthAdjust="spacingAndGlyphs" stroke="#000" stroke-width="0.35">Min-Maks</text>
</g>
<g>
<line x1="97" y1="2241" x2="893" y2="2241" stroke="#d8d8d8" stroke-width="2"/>
<line x1="97" y1="2145" x2="893" y2="2145" stroke="#d8d8d8" stroke-width="2"/>
<line x1="97" y1="2049" x2="893" y2="2049" stroke="#d8d8d8" stroke-width="2"/>
<line x1="97" y1="1953" x2="893" y2="1953" stroke="#d8d8d8" stroke-width="2"/>
<line x1="97" y1="1856" x2="893" y2="1856" stroke="#d8d8d8" stroke-width="2"/>
<line x1="97" y1="1760" x2="893" y2="1760" stroke="#d8d8d8" stroke-width="2"/>
<line x1="173" y1="1829" x2="173" y2="2241" stroke="#800000" stroke-width="2"/>
<line x1="173" y1="2277" x2="173" y2="2295" stroke="#800000" stroke-width="2"/>
<line x1="157" y1="1829" x2="189" y2="1829" stroke="#800000" stroke-width="2"/>
<line x1="157" y1="2295" x2="189" y2="2295" stroke="#800000" stroke-width="2"/>
<rect x="141" y="2241" width="64" height="36" fill="#fff" stroke="#800000" stroke-width="2"/>
<rect x="168.0" y="2255.0" width="8" height="8" fill="none" stroke="#800000" stroke-width="2"/>
<line x1="334" y1="2149" x2="334" y2="2181" stroke="#800000" stroke-width="2"/>
<line x1="334" y1="2240" x2="334" y2="2261" stroke="#800000" stroke-width="2"/>
<line x1="318" y1="2149" x2="350" y2="2149" stroke="#800000" stroke-width="2"/>
<line x1="318" y1="2261" x2="350" y2="2261" stroke="#800000" stroke-width="2"/>
<rect x="302" y="2181" width="64" height="59" fill="#fff" stroke="#800000" stroke-width="2"/>
<rect x="330.0" y="2216.0" width="8" height="8" fill="none" stroke="#800000" stroke-width="2"/>
<line x1="495" y1="1829" x2="495" y2="2195" stroke="#800000" stroke-width="2"/>
<line x1="495" y1="2258" x2="495" y2="2286" stroke="#800000" stroke-width="2"/>
<line x1="479" y1="1829" x2="511" y2="1829" stroke="#800000" stroke-width="2"/>
<line x1="479" y1="2286" x2="511" y2="2286" stroke="#800000" stroke-width="2"/>
<rect x="463" y="2195" width="64" height="63" fill="#fff" stroke="#800000" stroke-width="2"/>
<rect x="491.0" y="2242.0" width="8" height="8" fill="none" stroke="#800000" stroke-width="2"/>
<line x1="656" y1="2226" x2="656" y2="2242" stroke="#800000" stroke-width="2"/>
<line x1="656" y1="2276" x2="656" y2="2295" stroke="#800000" stroke-width="2"/>
<line x1="640" y1="2226" x2="672" y2="2226" stroke="#800000" stroke-width="2"/>
<line x1="640" y1="2295" x2="672" y2="2295" stroke="#800000" stroke-width="2"/>
<rect x="624" y="2242" width="64" height="34" fill="#fff" stroke="#800000" stroke-width="2"/>
<rect x="651.0" y="2255.0" width="8" height="8" fill="none" stroke="#800000" stroke-width="2"/>
<line x1="818" y1="2214" x2="818" y2="2254" stroke="#800000" stroke-width="2"/>
<line x1="818" y1="2280" x2="818" y2="2290" stroke="#800000" stroke-width="2"/>
<line x1="802" y1="2214" x2="834" y2="2214" stroke="#800000" stroke-width="2"/>
<line x1="802" y1="2290" x2="834" y2="2290" stroke="#800000" stroke-width="2"/>
<rect x="786" y="2254" width="64" height="26" fill="#fff" stroke="#800000" stroke-width="2"/>
<rect x="812.0" y="2262.0" width="8" height="8" fill="none" stroke="#800000" stroke-width="2"/>
<line x1="92" y1="2241" x2="96" y2="2241" stroke="#000" stroke-width="2"/>
<line x1="894" y1="2241" x2="898" y2="2241" stroke="#000" stroke-width="2"/>
<line x1="92" y1="2145" x2="96" y2="2145" stroke="#000" stroke-width="2"/>
<line x1="894" y1="2145" x2="898" y2="2145" stroke="#000" stroke-width="2"/>
<line x1="92" y1="2049" x2="96" y2="2049" stroke="#000" stroke-width="2"/>
<line x1="894" y1="2049" x2="898" y2="2049" stroke="#000" stroke-width="2"/>
<line x1="92" y1="1953" x2="96" y2="1953" stroke="#000" stroke-width="2"/>
<line x1="894" y1="1953" x2="898" y2="1953" stroke="#000" stroke-width="2"/>
<line x1="92" y1="1856" x2="96" y2="1856" stroke="#000" stroke-width="2"/>
<line x1="894" y1="1856" x2="898" y2="1856" stroke="#000" stroke-width="2"/>
<line x1="92" y1="1760" x2="96" y2="1760" stroke="#000" stroke-width="2"/>
<line x1="894" y1="1760" x2="898" y2="1760" stroke="#000" stroke-width="2"/>
<line x1="173" y1="2334" x2="173" y2="2338" stroke="#000" stroke-width="2"/>
<line x1="173" y1="1664" x2="173" y2="1668" stroke="#000" stroke-width="2"/>
<line x1="334" y1="2334" x2="334" y2="2338" stroke="#000" stroke-width="2"/>
<line x1="334" y1="1664" x2="334" y2="1668" stroke="#000" stroke-width="2"/>
<line x1="495" y1="2334" x2="495" y2="2338" stroke="#000" stroke-width="2"/>
<line x1="495" y1="1664" x2="495" y2="1668" stroke="#000" stroke-width="2"/>
<line x1="656" y1="2334" x2="656" y2="2338" stroke="#000" stroke-width="2"/>
<line x1="656" y1="1664" x2="656" y2="1668" stroke="#000" stroke-width="2"/>
<line x1="818" y1="2334" x2="818" y2="2338" stroke="#000" stroke-width="2"/>
<line x1="818" y1="1664" x2="818" y2="1668" stroke="#000" stroke-width="2"/>
<rect x="92" y="1664" width="806" height="674" fill="none" stroke="#000" stroke-width="2"/>
<text transform="translate(81.2,2342.6) scale(0.95,1)" x="0" y="0" font-family="Liberation Sans, Arial, sans-serif" font-size="21.53" text-anchor="end" stroke="#000" stroke-width="0.35">0,0</text>
<text transform="translate(81.2,2246.4) scale(0.95,1)" x="0" y="0" font-family="Liberation Sans, Arial, sans-serif" font-size="21.53" text-anchor="end" stroke="#000" stroke-width="0.35">0,2</text>
<text transform="translate(81.2,2150.1) scale(0.95,1)" x="0" y="0" font-family="Liberation Sans, Arial, sans-serif" font-size="21.53" text-anchor="end" stroke="#000" stroke-width="0.35">0,4</text>
<text transform="translate(81.2,2053.9) scale(0.95,1)" x="0" y="0" font-family="Liberation Sans, Arial, sans-serif" font-size="21.53" text-anchor="end" stroke="#000" stroke-width="0.35">0,6</text>
<text transform="translate(81.2,1957.6) scale(0.95,1)" x="0" y="0" font-family="Liberation Sans, Arial, sans-serif" font-size="21.53" text-anchor="end" stroke="#000" stroke-width="0.35">0,8</text>
<text transform="translate(81.2,1861.4) scale(0.95,1)" x="0" y="0" font-family="Liberation Sans, Arial, sans-serif" font-size="21.53" text-anchor="end" stroke="#000" stroke-width="0.35">1,0</text>
<text transform="translate(81.2,1765.1) scale(0.95,1)" x="0" y="0" font-family="Liberation Sans, Arial, sans-serif" font-size="21.53" text-anchor="end" stroke="#000" stroke-width="0.35">1,2</text>
<text transform="translate(81.2,1668.9) scale(0.95,1)" x="0" y="0" font-family="Liberation Sans, Arial, sans-serif" font-size="21.53" text-anchor="end" stroke="#000" stroke-width="0.35">1,4</text>
<text x="172.2" y="2375.8" font-family="Liberation Serif, Times New Roman, serif" font-size="21" text-anchor="middle">CANCER</text>
<text x="172.7" y="2400.4" font-family="Liberation Serif, Times New Roman, serif" font-size="21" text-anchor="middle">GROUP</text>
<text x="345.2" y="2375.8" font-family="Liberation Serif, Times New Roman, serif" font-size="21" text-anchor="middle">REFERENCE</text>
<text x="345.4" y="2400.4" font-family="Liberation Serif, Times New Roman, serif" font-size="21" text-anchor="middle">GROUP</text>
<text x="501.6" y="2375.8" font-family="Liberation Serif, Times New Roman, serif" font-size="21" text-anchor="middle">G1</text>
<text x="660" y="2375.8" font-family="Liberation Serif, Times New Roman, serif" font-size="21" text-anchor="middle">G2</text>
<text x="824.6" y="2375.8" font-family="Liberation Serif, Times New Roman, serif" font-size="21" text-anchor="middle">G3</text>
<text transform="translate(26.5,2204) rotate(-90)" x="0" y="0" font-family="Liberation Serif, Times New Roman, serif" font-size="32.8" textLength="367.0" lengthAdjust="spacingAndGlyphs">IL-1β/IL-1Ra ratio in serum</text>
<text x="13.5" y="1643.8" font-family="Liberation Serif, Times New Roman, serif" font-size="50">E</text>
<rect x="913.5" y="2306.5" width="8" height="8" fill="none" stroke="#800000" stroke-width="2"/>
<rect x="909" y="2327" width="18" height="22" fill="none" stroke="#800000" stroke-width="2"/>
<line x1="909" y1="2355" x2="928" y2="2355" stroke="#800000" stroke-width="2"/>
<line x1="909" y1="2376" x2="928" y2="2376" stroke="#800000" stroke-width="2"/>
<line x1="918" y1="2355" x2="918" y2="2376" stroke="#800000" stroke-width="2"/>
<text x="934.8" y="2318" font-family="Liberation Sans, Arial, sans-serif" font-size="21.5" textLength="81.6" lengthAdjust="spacingAndGlyphs" stroke="#000" stroke-width="0.35">Mediana</text>
<text x="934.8" y="2345.9" font-family="Liberation Sans, Arial, sans-serif" font-size="21.5" textLength="95.3" lengthAdjust="spacingAndGlyphs" stroke="#000" stroke-width="0.35">25%-75%</text>
<text x="934.8" y="2372.9" font-family="Liberation Sans, Arial, sans-serif" font-size="21.5" textLength="90.9" lengthAdjust="spacingAndGlyphs" stroke="#000" stroke-width="0.35">Min-Maks</text>
<line x1="179" y1="1763.5" x2="321" y2="1763.5" stroke="#000" stroke-width="3"/>
<path d="M171,1763.5 L187,1755.5 L180,1763.5 L187,1771.5 Z" fill="#000"/>
<path d="M329,1763.5 L313,1755.5 L320,1763.5 L313,1771.5 Z" fill="#000"/>
<text transform="translate(248.4,1765.7) scale(0.86,1)" x="0" y="0" font-family="Liberation Serif, Times New Roman, serif" font-size="35.5" text-anchor="middle" stroke="#000" stroke-width="0.5">**</text>
<line x1="345" y1="1763.5" x2="655" y2="1763.5" stroke="#000" stroke-width="3"/>
<path d="M337,1763.5 L353,1755.5 L346,1763.5 L353,1771.5 Z" fill="#000"/>
<path d="M663,1763.5 L647,1755.5 L654,1763.5 L647,1771.5 Z" fill="#000"/>
<text transform="translate(491.3,1766.2) scale(0.86,1)" x="0" y="0" font-family="Liberation Serif, Times New Roman, serif" font-size="35.5" text-anchor="middle" stroke="#000" stroke-width="0.5">***</text>
<line x1="345" y1="1718.5" x2="805" y2="1718.5" stroke="#000" stroke-width="3"/>
<path d="M337,1718.5 L353,1710.5 L346,1718.5 L353,1726.5 Z" fill="#000"/>
<path d="M813,1718.5 L797,1710.5 L804,1718.5 L797,1726.5 Z" fill="#000"/>
<text transform="translate(573.4,1719.9) scale(0.86,1)" x="0" y="0" font-family="Liberation Serif, Times New Roman, serif" font-size="35.5" text-anchor="middle" stroke="#000" stroke-width="0.5">**</text>
</g>
<g>
<line x1="1179" y1="2293" x2="1926" y2="2293" stroke="#d8d8d8" stroke-width="2"/>
<line x1="1179" y1="2245" x2="1926" y2="2245" stroke="#d8d8d8" stroke-width="2"/>
<line x1="1179" y1="2196" x2="1926" y2="2196" stroke="#d8d8d8" stroke-width="2"/>
<line x1="1179" y1="2148" x2="1926" y2="2148" stroke="#d8d8d8" stroke-width="2"/>
<line x1="1179" y1="2100" x2="1926" y2="2100" stroke="#d8d8d8" stroke-width="2"/>
<line x1="1179" y1="2052" x2="1926" y2="2052" stroke="#d8d8d8" stroke-width="2"/>
<line x1="1179" y1="2004" x2="1926" y2="2004" stroke="#d8d8d8" stroke-width="2"/>
<line x1="1179" y1="1956" x2="1926" y2="1956" stroke="#d8d8d8" stroke-width="2"/>
<line x1="1179" y1="1908" x2="1926" y2="1908" stroke="#d8d8d8" stroke-width="2"/>
<line x1="1179" y1="1859" x2="1926" y2="1859" stroke="#d8d8d8" stroke-width="2"/>
<line x1="1179" y1="1811" x2="1926" y2="1811" stroke="#d8d8d8" stroke-width="2"/>
<line x1="1179" y1="1763" x2="1926" y2="1763" stroke="#d8d8d8" stroke-width="2"/>
<line x1="1179" y1="1715" x2="1926" y2="1715" stroke="#d8d8d8" stroke-width="2"/>
<line x1="1268" y1="1699" x2="1268" y2="1961" stroke="#800000" stroke-width="2"/>
<line x1="1268" y1="2198" x2="1268" y2="2294" stroke="#800000" stroke-width="2"/>
<line x1="1249" y1="1699" x2="1287" y2="1699" stroke="#800000" stroke-width="2"/>
<line x1="1249" y1="2294" x2="1287" y2="2294" stroke="#800000" stroke-width="2"/>
<rect x="1230" y="1961" width="76" height="237" fill="#fff" stroke="#800000" stroke-width="2"/>
<rect x="1263.0" y="2057.0" width="8" height="8" fill="none" stroke="#800000" stroke-width="2"/>
<line x1="1458" y1="1729" x2="1458" y2="1912" stroke="#800000" stroke-width="2"/>
<line x1="1458" y1="2186" x2="1458" y2="2227" stroke="#800000" stroke-width="2"/>
<line x1="1439" y1="1729" x2="1477" y2="1729" stroke="#800000" stroke-width="2"/>
<line x1="1439" y1="2227" x2="1477" y2="2227" stroke="#800000" stroke-width="2"/>
<rect x="1420" y="1912" width="76" height="274" fill="#fff" stroke="#800000" stroke-width="2"/>
<rect x="1452.0" y="2038.0" width="8" height="8" fill="none" stroke="#800000" stroke-width="2"/>
<line x1="1647" y1="1743" x2="1647" y2="2032" stroke="#800000" stroke-width="2"/>
<line x1="1647" y1="2102" x2="1647" y2="2238" stroke="#800000" stroke-width="2"/>
<line x1="1628" y1="1743" x2="1666" y2="1743" stroke="#800000" stroke-width="2"/>
<line x1="1628" y1="2238" x2="1666" y2="2238" stroke="#800000" stroke-width="2"/>
<rect x="1609" y="2032" width="76" height="70" fill="#fff" stroke="#800000" stroke-width="2"/>
<rect x="1642.0" y="2052.0" width="8" height="8" fill="none" stroke="#800000" stroke-width="2"/>
<line x1="1836" y1="1699" x2="1836" y2="1960" stroke="#800000" stroke-width="2"/>
<line x1="1836" y1="2258" x2="1836" y2="2294" stroke="#800000" stroke-width="2"/>
<line x1="1817" y1="1699" x2="1855" y2="1699" stroke="#800000" stroke-width="2"/>
<line x1="1817" y1="2294" x2="1855" y2="2294" stroke="#800000" stroke-width="2"/>
<rect x="1798" y="1960" width="76" height="298" fill="#fff" stroke="#800000" stroke-width="2"/>
<rect x="1832.0" y="2080.0" width="8" height="8" fill="none" stroke="#800000" stroke-width="2"/>
<line x1="1174" y1="2293" x2="1178" y2="2293" stroke="#000" stroke-width="2"/>
<line x1="1927" y1="2293" x2="1931" y2="2293" stroke="#000" stroke-width="2"/>
<line x1="1174" y1="2245" x2="1178" y2="2245" stroke="#000" stroke-width="2"/>
<line x1="1927" y1="2245" x2="1931" y2="2245" stroke="#000" stroke-width="2"/>
<line x1="1174" y1="2196" x2="1178" y2="2196" stroke="#000" stroke-width="2"/>
<line x1="1927" y1="2196" x2="1931" y2="2196" stroke="#000" stroke-width="2"/>
<line x1="1174" y1="2148" x2="1178" y2="2148" stroke="#000" stroke-width="2"/>
<line x1="1927" y1="2148" x2="1931" y2="2148" stroke="#000" stroke-width="2"/>
<line x1="1174" y1="2100" x2="1178" y2="2100" stroke="#000" stroke-width="2"/>
<line x1="1927" y1="2100" x2="1931" y2="2100" stroke="#000" stroke-width="2"/>
<line x1="1174" y1="2052" x2="1178" y2="2052" stroke="#000" stroke-width="2"/>
<line x1="1927" y1="2052" x2="1931" y2="2052" stroke="#000" stroke-width="2"/>
<line x1="1174" y1="2004" x2="1178" y2="2004" stroke="#000" stroke-width="2"/>
<line x1="1927" y1="2004" x2="1931" y2="2004" stroke="#000" stroke-width="2"/>
<line x1="1174" y1="1956" x2="1178" y2="1956" stroke="#000" stroke-width="2"/>
<line x1="1927" y1="1956" x2="1931" y2="1956" stroke="#000" stroke-width="2"/>
<line x1="1174" y1="1908" x2="1178" y2="1908" stroke="#000" stroke-width="2"/>
<line x1="1927" y1="1908" x2="1931" y2="1908" stroke="#000" stroke-width="2"/>
<line x1="1174" y1="1859" x2="1178" y2="1859" stroke="#000" stroke-width="2"/>
<line x1="1927" y1="1859" x2="1931" y2="1859" stroke="#000" stroke-width="2"/>
<line x1="1174" y1="1811" x2="1178" y2="1811" stroke="#000" stroke-width="2"/>
<line x1="1927" y1="1811" x2="1931" y2="1811" stroke="#000" stroke-width="2"/>
<line x1="1174" y1="1763" x2="1178" y2="1763" stroke="#000" stroke-width="2"/>
<line x1="1927" y1="1763" x2="1931" y2="1763" stroke="#000" stroke-width="2"/>
<line x1="1174" y1="1715" x2="1178" y2="1715" stroke="#000" stroke-width="2"/>
<line x1="1927" y1="1715" x2="1931" y2="1715" stroke="#000" stroke-width="2"/>
<line x1="1268" y1="2337" x2="1268" y2="2341" stroke="#000" stroke-width="2"/>
<line x1="1268" y1="1667" x2="1268" y2="1671" stroke="#000" stroke-width="2"/>
<line x1="1458" y1="2337" x2="1458" y2="2341" stroke="#000" stroke-width="2"/>
<line x1="1458" y1="1667" x2="1458" y2="1671" stroke="#000" stroke-width="2"/>
<line x1="1647" y1="2337" x2="1647" y2="2341" stroke="#000" stroke-width="2"/>
<line x1="1647" y1="1667" x2="1647" y2="1671" stroke="#000" stroke-width="2"/>
<line x1="1836" y1="2337" x2="1836" y2="2341" stroke="#000" stroke-width="2"/>
<line x1="1836" y1="1667" x2="1836" y2="1671" stroke="#000" stroke-width="2"/>
<rect x="1174" y="1667" width="757" height="674" fill="none" stroke="#000" stroke-width="2"/>
<text transform="translate(1163,2345.2) scale(0.95,1)" x="0" y="0" font-family="Liberation Sans, Arial, sans-serif" font-size="22.05" text-anchor="end" stroke="#000" stroke-width="0.35">0,08</text>
<text transform="translate(1163,2297.1) scale(0.95,1)" x="0" y="0" font-family="Liberation Sans, Arial, sans-serif" font-size="22.05" text-anchor="end" stroke="#000" stroke-width="0.35">0,10</text>
<text transform="translate(1163,2248.9) scale(0.95,1)" x="0" y="0" font-family="Liberation Sans, Arial, sans-serif" font-size="22.05" text-anchor="end" stroke="#000" stroke-width="0.35">0,12</text>
<text transform="translate(1163,2200.8) scale(0.95,1)" x="0" y="0" font-family="Liberation Sans, Arial, sans-serif" font-size="22.05" text-anchor="end" stroke="#000" stroke-width="0.35">0,14</text>
<text transform="translate(1163,2152.6) scale(0.95,1)" x="0" y="0" font-family="Liberation Sans, Arial, sans-serif" font-size="22.05" text-anchor="end" stroke="#000" stroke-width="0.35">0,16</text>
<text transform="translate(1163,2104.5) scale(0.95,1)" x="0" y="0" font-family="Liberation Sans, Arial, sans-serif" font-size="22.05" text-anchor="end" stroke="#000" stroke-width="0.35">0,18</text>
<text transform="translate(1163,2056.3) scale(0.95,1)" x="0" y="0" font-family="Liberation Sans, Arial, sans-serif" font-size="22.05" text-anchor="end" stroke="#000" stroke-width="0.35">0,20</text>
<text transform="translate(1163,2008.2) scale(0.95,1)" x="0" y="0" font-family="Liberation Sans, Arial, sans-serif" font-size="22.05" text-anchor="end" stroke="#000" stroke-width="0.35">0,22</text>
<text transform="translate(1163,1960.1) scale(0.95,1)" x="0" y="0" font-family="Liberation Sans, Arial, sans-serif" font-size="22.05" text-anchor="end" stroke="#000" stroke-width="0.35">0,24</text>
<text transform="translate(1163,1911.9) scale(0.95,1)" x="0" y="0" font-family="Liberation Sans, Arial, sans-serif" font-size="22.05" text-anchor="end" stroke="#000" stroke-width="0.35">0,26</text>
<text transform="translate(1163,1863.8) scale(0.95,1)" x="0" y="0" font-family="Liberation Sans, Arial, sans-serif" font-size="22.05" text-anchor="end" stroke="#000" stroke-width="0.35">0,28</text>
<text transform="translate(1163,1815.6) scale(0.95,1)" x="0" y="0" font-family="Liberation Sans, Arial, sans-serif" font-size="22.05" text-anchor="end" stroke="#000" stroke-width="0.35">0,30</text>
<text transform="translate(1163,1767.5) scale(0.95,1)" x="0" y="0" font-family="Liberation Sans, Arial, sans-serif" font-size="22.05" text-anchor="end" stroke="#000" stroke-width="0.35">0,32</text>
<text transform="translate(1163,1719.3) scale(0.95,1)" x="0" y="0" font-family="Liberation Sans, Arial, sans-serif" font-size="22.05" text-anchor="end" stroke="#000" stroke-width="0.35">0,34</text>
<text transform="translate(1163,1671.2) scale(0.95,1)" x="0" y="0" font-family="Liberation Sans, Arial, sans-serif" font-size="22.05" text-anchor="end" stroke="#000" stroke-width="0.35">0,36</text>
<text x="1266.3" y="2381.7" font-family="Liberation Serif, Times New Roman, serif" font-size="21" text-anchor="middle">CANCER GROUP</text>
<text x="1455.5" y="2382" font-family="Liberation Serif, Times New Roman, serif" font-size="21" text-anchor="middle">G1</text>
<text x="1640.8" y="2382" font-family="Liberation Serif, Times New Roman, serif" font-size="21" text-anchor="middle">G2</text>
<text x="1840.4" y="2382" font-family="Liberation Serif, Times New Roman, serif" font-size="21" text-anchor="middle">G3</text>
<text transform="translate(1099.3,2187.5) rotate(-90)" x="0" y="0" font-family="Liberation Serif, Times New Roman, serif" font-size="32.8" textLength="326.0" lengthAdjust="spacingAndGlyphs">IL-1β/IL-1Ra ratio in PF</text>
<text x="1073.5" y="1645.3" font-family="Liberation Serif, Times New Roman, serif" font-size="50">F</text>
<rect x="1945.5" y="2309.5" width="8" height="8" fill="none" stroke="#800000" stroke-width="2"/>
<rect x="1942" y="2330" width="17" height="22" fill="none" stroke="#800000" stroke-width="2"/>
<line x1="1941" y1="2358" x2="1960" y2="2358" stroke="#800000" stroke-width="2"/>
<line x1="1941" y1="2379" x2="1960" y2="2379" stroke="#800000" stroke-width="2"/>
<line x1="1951" y1="2358" x2="1951" y2="2379" stroke="#800000" stroke-width="2"/>
<text x="1965.6" y="2321" font-family="Liberation Sans, Arial, sans-serif" font-size="21.5" textLength="81.4" lengthAdjust="spacingAndGlyphs" stroke="#000" stroke-width="0.35">Mediana</text>
<text x="1965.6" y="2347.9" font-family="Liberation Sans, Arial, sans-serif" font-size="21.5" textLength="93.3" lengthAdjust="spacingAndGlyphs" stroke="#000" stroke-width="0.35">25%-75%</text>
<text x="1965.6" y="2375.8" font-family="Liberation Sans, Arial, sans-serif" font-size="21.5" textLength="90" lengthAdjust="spacingAndGlyphs" stroke="#000" stroke-width="0.35">Min-Maks</text>
</g>
</svg>
</body></html>
